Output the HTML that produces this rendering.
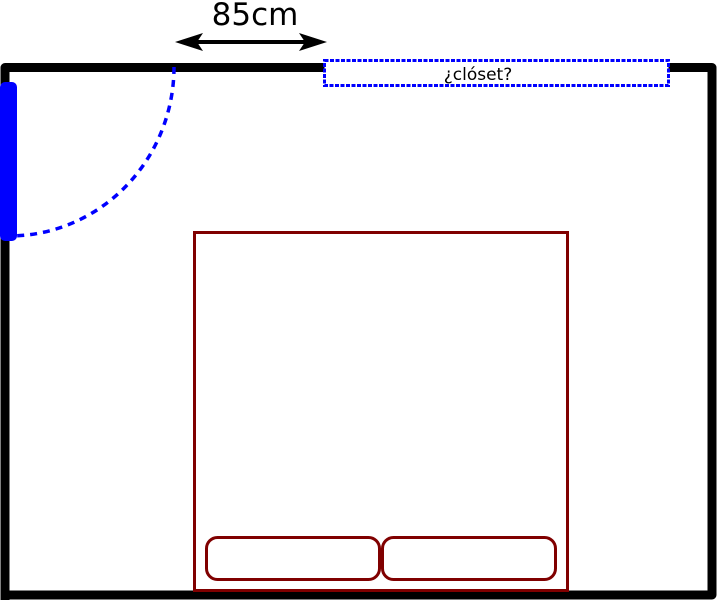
<!DOCTYPE html>
<html><head><style>html,body{margin:0;padding:0;background:#fff}svg{display:block}</style></head>
<body>
<svg width="717" height="600" viewBox="0 0 717 600" xmlns="http://www.w3.org/2000/svg">
<rect width="717" height="600" fill="#fff"/>
<path d="M5,600 V67.5 H712 V595 H5" fill="none" stroke="#000" stroke-width="9" stroke-linejoin="round"/>
<rect x="0" y="82" width="17" height="159" rx="5" fill="#0000ff"/>
<path d="M174,67 A165,169 0 0 1 10,236" fill="none" stroke="#0000ff" stroke-width="3.5" stroke-dasharray="7,6"/>
<rect x="324.5" y="60.5" width="344" height="25" fill="#fff" stroke="#0000ff" stroke-width="3" stroke-dasharray="4,1.5"/>
<text x="478" y="80" font-family="DejaVu Sans, sans-serif" font-size="17" text-anchor="middle" fill="#000">¿clóset?</text>
<line x1="185" y1="42" x2="317" y2="42" stroke="#000" stroke-width="4"/>
<path d="M175,42 L203,33 L197,42 L203,51 Z" fill="#000"/>
<path d="M327,42 L299,33 L305,42 L299,51 Z" fill="#000"/>
<text x="255" y="25" font-family="DejaVu Sans, sans-serif" font-size="31" text-anchor="middle" fill="#000">85cm</text>
<rect x="194.5" y="232.5" width="373" height="358" fill="none" stroke="#800000" stroke-width="3"/>
<rect x="206.5" y="537.5" width="173" height="42" rx="11" fill="none" stroke="#800000" stroke-width="3"/>
<rect x="382.5" y="537.5" width="173" height="42" rx="11" fill="none" stroke="#800000" stroke-width="3"/>
</svg>
</body></html>
